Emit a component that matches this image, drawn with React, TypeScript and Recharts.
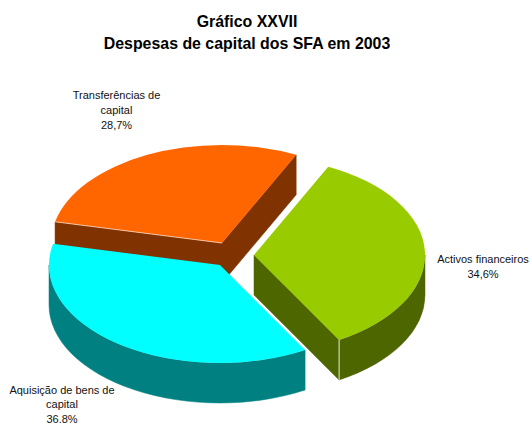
import React from "react";
import { PieChart, Pie } from "recharts";

const CATEGORIES = ["Transferências de capital", "Activos financeiros", "Aquisição de bens de capital"];
const SHARES = [28.7, 34.6, 36.8];
const LABEL_LINES = [
  ["Transferências de", "capital", "28,7%"],
  ["Activos financeiros", "34,6%"],
  ["Aquisição de bens de", "capital", "36.8%"],
];
const TITLE_LINES = ["Gráfico XXVII", "Despesas de capital dos SFA em 2003"];

const TOP_COLORS = ["#FF6600", "#99CC00", "#00FFFF"];
const WALL_COLORS = ["#803300", "#4D6600", "#008080"];

// how far each slice is pulled away from the pie centre
const EXPLODE = [
  [0, -12],
  [32, 0],
  [-2, 10],
];
const LABEL_POS = [
  [116.5, 99],
  [483, 263],
  [62, 393.5],
];
const LABEL_LEADING = [15, 15, 14.5];

const TILT = 0.573;
const DEPTH = 40;
const FONT = "'Liberation Sans', Arial, sans-serif";

const chartData = CATEGORIES.map((name, i) => ({ name, value: SHARES[i] }));

const Slice3D = (props: any) => {
  const { cx, cy, outerRadius: rx, startAngle, endAngle, index } = props;
  const ry = rx * TILT;
  const ox = cx + EXPLODE[index][0];
  const oy = cy + EXPLODE[index][1];
  const pt = (deg: number, drop = 0) => {
    const r = (deg * Math.PI) / 180;
    return `${ox + rx * Math.cos(r)} ${oy - ry * Math.sin(r) + drop}`;
  };
  const apex = (drop = 0) => `${ox} ${oy + drop}`;
  const wall = WALL_COLORS[index];

  const cutWall = (deg: number) => (
    <path
      d={`M${apex()} L${pt(deg)} L${pt(deg, DEPTH)} L${apex(DEPTH)} Z`}
      fill={wall}
      stroke={wall}
      strokeWidth={0.5}
    />
  );

  // the rim only shows on the front half of the ellipse
  const rimFrom = Math.min(startAngle, 0);
  const rimTo = Math.max(endAngle, -180);
  const large = Math.abs(endAngle - startAngle) > 180 ? 1 : 0;

  return (
    <g>
      {Math.cos((startAngle * Math.PI) / 180) < 0 && cutWall(startAngle)}
      {Math.cos((endAngle * Math.PI) / 180) > 0 && cutWall(endAngle)}
      {rimFrom > rimTo && (
        <path
          d={`M${pt(rimFrom)} A${rx} ${ry} 0 0 1 ${pt(rimTo)} L${pt(rimTo, DEPTH)} A${rx} ${ry} 0 0 0 ${pt(rimFrom, DEPTH)} Z`}
          fill={wall}
          stroke={wall}
          strokeWidth={0.5}
        />
      )}
      <path
        d={`M${apex()} L${pt(startAngle)} A${rx} ${ry} 0 ${large} 1 ${pt(endAngle)} Z`}
        fill={TOP_COLORS[index]}
      />
      {/* light seams along the slice edges */}
      {index === 0 && <path d={`M${apex()} L${pt(startAngle)}`} stroke="#FFD9BF" strokeWidth={0.8} fill="none" />}
      {index === 1 && <path d={`M${pt(endAngle)} L${pt(endAngle, DEPTH)}`} stroke="#E6EBD0" strokeWidth={1} fill="none" />}
    </g>
  );
};

const SliceLabel = (props: any) => {
  const { index } = props;
  const [x, y] = LABEL_POS[index];
  return (
    <text x={x} y={y} textAnchor="middle" fontFamily={FONT} fontSize={11} fill="#111">
      {LABEL_LINES[index].map((line, i) => (
        <tspan key={line} x={x} dy={i === 0 ? 0 : LABEL_LEADING[index]}>
          {line}
        </tspan>
      ))}
    </text>
  );
};

export default function App() {
  return (
    <div style={{ position: "absolute", left: 0, top: 0, width: 531, height: 423, background: "#fff" }}>
      <PieChart width={531} height={423} margin={{ top: 0, right: 0, bottom: 0, left: 0 }}>
        <text textAnchor="middle" fontFamily={FONT} fontWeight="bold" fontSize={15.9} fill="#000">
          <tspan x={247} y={26.5}>{TITLE_LINES[0]}</tspan>
          <tspan x={247} y={48.5}>{TITLE_LINES[1]}</tspan>
        </text>
        <Pie
          data={chartData}
          dataKey="value"
          nameKey="name"
          cx={222}
          cy={255}
          innerRadius={0}
          outerRadius={171}
          startAngle={167.5}
          endAngle={-192.5}
          stroke="none"
          shape={Slice3D}
          label={SliceLabel}
          labelLine={false}
          isAnimationActive={false}
        />
      </PieChart>
    </div>
  );
}
